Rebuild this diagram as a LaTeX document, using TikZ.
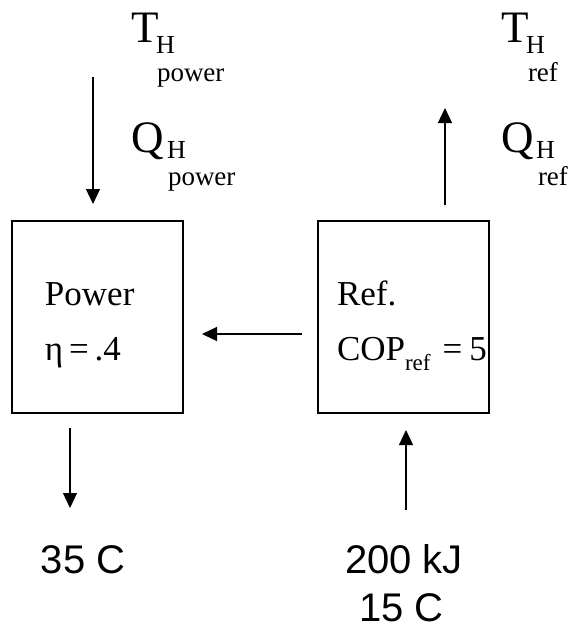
\documentclass[tikz,border=0pt]{standalone}
\usepackage{fontspec}
\setmainfont{Liberation Serif}
\newfontfamily\arialf{Liberation Sans}
\usetikzlibrary{arrows.meta}
\newcommand\fsz[1]{\fontsize{#1}{#1}\selectfont}
\tikzset{
  box/.style={draw, line width=1.4pt, minimum width=171pt, minimum height=192pt, inner sep=0pt},
  flow/.style={line width=1.2pt, -{Triangle[length=15pt,width=14pt]}},
  lbl/.style={anchor=base west, inner sep=0pt, outer sep=0pt},
  big/.style={lbl, font=\fsz{45}},
  sub/.style={lbl, font=\fsz{26}},
  subsub/.style={lbl, font=\fsz{27}},
  boxtext/.style={lbl, font=\fsz{35}},
  sans/.style={lbl, font=\arialf\fsz{40}, text depth=0pt},
}
\begin{document}
\begin{tikzpicture}[x=1pt,y=1pt]
\useasboundingbox (0,0) rectangle (573,-630);
% boxes
\node[box] (pw) at (97.5,-317) {};
\node[box] (rf) at (403.5,-317) {};
% arrow end points
\coordinate (pwinA) at (93,-77);
\coordinate (pwinB) at (93,-204);
\coordinate (rfoutA) at (445,-205);
\coordinate (rfoutB) at (445,-108);
\coordinate (midA) at (302,-334);
\coordinate (midB) at (202,-334);
\coordinate (pwoutA) at (70,-428);
\coordinate (pwoutB) at (70,-508);
\coordinate (rfinA) at (406,-510);
\coordinate (rfinB) at (406,-430);
\draw[flow] (pwinA) -- (pwinB);
\draw[flow] (rfoutA) -- (rfoutB);
\draw[flow] (midA) -- (midB);
\draw[flow] (pwoutA) -- (pwoutB);
\draw[flow] (rfinA) -- (rfinB);
% top-left labels
\node[big] (tl) at (131,-42) {T};
\node[sub] (tlh) at (156,-53) {H};
\node[subsub] (tlp) at (157,-81) {power};
\node[big] (ql) at (131,-152) {Q};
\node[sub] (qlh) at (167,-158) {H};
\node[subsub] (qlp) at (168,-185) {power};
% top-right labels
\node[big] (tr) at (501,-42) {T};
\node[sub] (trh) at (526,-53) {H};
\node[subsub] (trr) at (528,-81) {ref};
\node[big] (qr) at (501,-152) {Q};
\node[sub] (qrh) at (536,-158) {H};
\node[subsub] (qrr) at (538,-185) {ref};
% box texts
\node[boxtext] (pwname) at (45,-305) {Power};
\node[boxtext] (pweta) at (45,-360) {η\,=\,.4};
\node[boxtext] (rfname) at (337,-305) {Ref.};
\node[boxtext] (rfcop) at (337,-360) {COP\raisebox{-10pt}{\fsz{23}ref}\hspace{12pt}=\hspace{7pt}5};
% bottom texts
\node[sans] (t35) at (41,-573) {35 C};
\node[sans] (t200) at (345,-573) {200 kJ};
\node[sans] (t15) at (359,-621) {15 C};
\end{tikzpicture}
\end{document}
